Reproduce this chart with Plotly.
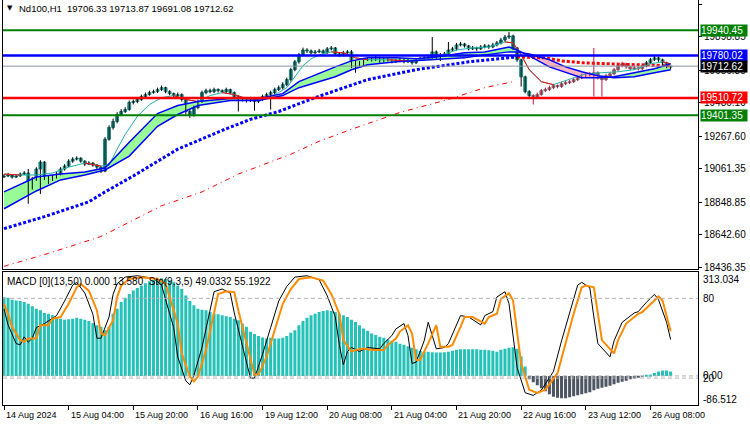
import plotly.graph_objects as go

# ---------------- data ----------------
tick_idx = [0, 16, 32, 48, 64, 80, 96, 112, 128, 144, 160]
tick_labels = ["14 Aug 2024", "15 Aug 04:00", "15 Aug 20:00", "16 Aug 16:00", "19 Aug 12:00",
               "20 Aug 08:00", "21 Aug 04:00", "21 Aug 20:00", "22 Aug 16:00", "23 Aug 12:00",
               "26 Aug 08:00"]

opens = [19010, 19016, 19022, 19009, 19016, 19028, 19035, 18946, 18997, 19060,
         19104, 19009, 18997, 19009, 19028, 19060, 19079, 19110, 19123, 19129,
         19110, 19091, 19098, 19085, 19072, 19047, 19249, 19324, 19362, 19406,
         19425, 19438, 19482, 19488, 19501, 19520, 19532, 19545, 19551, 19564,
         19576, 19551, 19538, 19526, 19532, 19501, 19425, 19400, 19450, 19488,
         19545, 19557, 19551, 19564, 19557, 19551, 19564, 19545, 19520, 19507,
         19501, 19494, 19507, 19488, 19501, 19520, 19532, 19545, 19564, 19576,
         19595, 19627, 19690, 19740, 19784, 19815, 19809, 19797, 19803, 19809,
         19797, 19822, 19828, 19790, 19784, 19797, 19803, 19715, 19740, 19721,
         19753, 19759, 19753, 19765, 19746, 19759, 19753, 19740, 19746, 19753,
         19740, 19746, 19734, 19753, 19759, 19765, 19771, 19803, 19771, 19784,
         19790, 19815, 19822, 19847, 19853, 19841, 19822, 19828, 19822, 19834,
         19841, 19834, 19847, 19860, 19878, 19897, 19904, 19828, 19753, 19645,
         19551, 19526, 19520, 19532, 19557, 19564, 19576, 19589, 19583, 19601,
         19608, 19614, 19627, 19639, 19652, 19658, 19664, 19671, 19639, 19627,
         19652, 19664, 19690, 19715, 19727, 19708, 19696, 19702, 19696, 19715,
         19734, 19753, 19765, 19753, 19734, 19706.33]
highs = [19028, 19035, 19028, 19024, 19038, 19047, 19060, 19010, 19072, 19116,
         19110, 19020, 19022, 19040, 19072, 19091, 19122, 19135, 19140, 19135,
         19116, 19110, 19104, 19091, 19080, 19262, 19337, 19380, 19420, 19440,
         19452, 19495, 19500, 19514, 19532, 19545, 19557, 19564, 19576, 19590,
         19582, 19560, 19545, 19545, 19540, 19510, 19440, 19462, 19500, 19557,
         19570, 19570, 19576, 19572, 19565, 19576, 19570, 19552, 19528, 19515,
         19510, 19518, 19515, 19512, 19532, 19545, 19557, 19576, 19590, 19610,
         19640, 19702, 19752, 19797, 19830, 19826, 19818, 19815, 19822, 19818,
         19834, 19840, 19834, 19797, 19809, 19815, 19815, 19752, 19746, 19765,
         19771, 19768, 19777, 19772, 19770, 19768, 19760, 19758, 19765, 19760,
         19757, 19752, 19765, 19771, 19777, 19784, 19897, 19812, 19796, 19803,
         19866, 19835, 19860, 19866, 19860, 19847, 19840, 19836, 19846, 19853,
         19850, 19860, 19872, 19892, 19910, 19929, 19912, 19835, 19760, 19652,
         19560, 19535, 19545, 19568, 19576, 19588, 19600, 19596, 19614, 19620,
         19626, 19639, 19652, 19664, 19670, 19676, 19828, 19680, 19648, 19664,
         19676, 19702, 19727, 19740, 19734, 19715, 19715, 19710, 19727, 19746,
         19765, 19778, 19772, 19760, 19740, 19713.87]
lows = [19003, 19009, 19000, 19003, 19010, 19022, 18840, 18930, 18985, 18902,
        18990, 18965, 18984, 19000, 19020, 19050, 19072, 19100, 19115, 19100,
        19080, 19085, 19075, 19060, 19035, 19040, 19240, 19310, 19350, 19395,
        19415, 19430, 19470, 19478, 19492, 19510, 19525, 19538, 19542, 19555,
        19540, 19528, 19515, 19515, 19488, 19405, 19385, 19392, 19440, 19480,
        19535, 19540, 19542, 19545, 19540, 19542, 19535, 19508, 19425, 19488,
        19482, 19485, 19430, 19478, 19492, 19510, 19437, 19535, 19555, 19565,
        19585, 19615, 19680, 19728, 19775, 19796, 19786, 19790, 19795, 19786,
        19790, 19812, 19780, 19772, 19776, 19790, 19700, 19671, 19710, 19715,
        19745, 19742, 19745, 19735, 19738, 19742, 19730, 19732, 19738, 19730,
        19732, 19722, 19726, 19745, 19750, 19756, 19760, 19760, 19745, 19775,
        19780, 19805, 19812, 19838, 19830, 19812, 19815, 19810, 19815, 19825,
        19822, 19826, 19838, 19850, 19868, 19885, 19815, 19740, 19583, 19540,
        19510, 19469, 19508, 19525, 19548, 19555, 19568, 19572, 19575, 19592,
        19598, 19605, 19618, 19630, 19642, 19648, 19520, 19628, 19520, 19618,
        19642, 19655, 19680, 19705, 19696, 19685, 19688, 19685, 19688, 19705,
        19725, 19745, 19740, 19718, 19700, 19691.08]
closes = [19016, 19022, 19009, 19016, 19028, 19035, 18946, 18997, 19060, 19104,
          19009, 18997, 19009, 19028, 19060, 19079, 19110, 19123, 19129, 19110,
          19091, 19098, 19085, 19072, 19047, 19249, 19324, 19362, 19406, 19425,
          19438, 19482, 19488, 19501, 19520, 19532, 19545, 19551, 19564, 19576,
          19551, 19538, 19526, 19532, 19501, 19425, 19400, 19450, 19488, 19545,
          19557, 19551, 19564, 19557, 19551, 19564, 19545, 19520, 19507, 19501,
          19494, 19507, 19488, 19501, 19520, 19532, 19545, 19564, 19576, 19595,
          19627, 19690, 19740, 19784, 19815, 19809, 19797, 19803, 19809, 19797,
          19822, 19828, 19790, 19784, 19797, 19803, 19715, 19740, 19721, 19753,
          19759, 19753, 19765, 19746, 19759, 19753, 19740, 19746, 19753, 19740,
          19746, 19734, 19753, 19759, 19765, 19771, 19803, 19771, 19784, 19790,
          19815, 19822, 19847, 19853, 19841, 19822, 19828, 19822, 19834, 19841,
          19834, 19847, 19860, 19878, 19897, 19904, 19828, 19753, 19645, 19551,
          19526, 19520, 19532, 19557, 19564, 19576, 19589, 19583, 19601, 19608,
          19614, 19627, 19639, 19652, 19658, 19664, 19671, 19639, 19627, 19652,
          19664, 19690, 19715, 19727, 19708, 19696, 19702, 19696, 19715, 19734,
          19753, 19765, 19753, 19734, 19715, 19712.62]
gray_bars = (131, 158)          # range of bars drawn in gray in the reference

fast_idx = [0, 4, 8, 12, 16, 20, 24, 26, 28, 30, 33, 36, 39, 42, 45, 48, 51, 54, 57, 60,
            63, 66, 68, 70, 72, 74, 76, 78, 81, 84, 87, 90, 95, 100, 105, 108, 112, 116,
            120, 124, 126, 128, 130, 133, 136, 140, 144, 148, 152, 156, 160, 163, 165]
fast_ma = [19028, 19022, 19022, 19035, 19072, 19098, 19079, 19085, 19186, 19280, 19394,
           19469, 19513, 19526, 19501, 19488, 19526, 19545, 19532, 19507, 19501, 19520,
           19545, 19576, 19645, 19715, 19759, 19784, 19803, 19797, 19765, 19753, 19753,
           19746, 19759, 19778, 19815, 19828, 19834, 19866, 19860, 19784, 19690, 19614,
           19595, 19627, 19664, 19671, 19677, 19690, 19727, 19740, 19727]

rib_idx = [0, 8, 14, 20, 25, 31, 38, 43, 48, 56, 63, 69, 73, 77, 82, 86, 90, 97, 102, 107,
           114, 119, 125, 127, 130, 135, 139, 143, 147, 151, 156, 161, 165]
rib_fast = [18915, 19009, 19028, 19041, 19066, 19230, 19412, 19463, 19488, 19507, 19507,
            19538, 19614, 19658, 19708, 19746, 19765, 19765, 19759, 19771, 19797, 19803,
            19834, 19815, 19778, 19708, 19671, 19639, 19639, 19645, 19671, 19696, 19727]
rib_slow = [18808, 18921, 18991, 19022, 19054, 19142, 19331, 19406, 19463, 19494, 19494,
            19526, 19576, 19608, 19645, 19690, 19721, 19740, 19746, 19753, 19765, 19784,
            19803, 19803, 19790, 19753, 19708, 19677, 19652, 19639, 19645, 19671, 19690]

ma50_idx = [0, 10, 21, 25, 32, 43, 54, 61, 68, 77, 90, 102, 115, 127, 134, 138, 143, 150, 157, 165]
ma50 = [18682, 18758, 18852, 18915, 19016, 19186, 19305, 19375, 19425, 19513, 19627,
        19690, 19740, 19771, 19765, 19746, 19734, 19727, 19721, 19715]
ma50_blue_until = 127

ma200_idx = [0, 11, 24, 39, 49, 58, 71, 78, 86, 98, 110, 119, 126]
ma200 = [18443, 18525, 18632, 18827, 18915, 19028, 19154, 19236, 19312, 19419, 19501, 19576, 19614]

levels = [19940.45, 19780.02, 19712.62, 19510.72, 19401.35]
level_labels = ["19940.45", "19780.02", "19712.62", "19510.72", "19401.35"]
price_ticks = [20105.10, 19898.85, 19686.35, 19480.10, 19267.60, 19061.35, 18848.85, 18642.60, 18436.35]

macd_hist = [236.7, 234.6, 228.6, 226.8, 224.8, 221.8, 216.7, 209.0, 201.8, 197.1,
             189.0, 187.0, 182.2, 175.0, 172.1, 169.1, 170.3, 172.1, 175.0, 172.1,
             169.1, 165.2, 159.3, 152.4, 147.4, 137.5, 147.4, 187.0, 201.8, 221.8,
             234.6, 246.5, 256.6, 264.4, 271.5, 278.3, 284.3, 288.2, 291.2, 293.2,
             291.2, 286.4, 281.3, 271.5, 261.4, 241.7, 224.8, 212.0, 201.8, 198.9,
             197.1, 192.0, 187.0, 185.2, 182.2, 179.2, 177.1, 172.1, 167.3, 157.2,
             147.4, 132.5, 125.6, 119.7, 115.5, 112.5, 114.6, 112.5, 112.5, 114.6,
             119.7, 129.5, 137.5, 152.4, 165.2, 175.0, 182.2, 187.0, 192.0, 195.0,
             197.1, 195.0, 192.0, 187.0, 182.2, 177.1, 169.1, 162.2, 152.4, 142.3,
             135.5, 127.4, 122.7, 117.6, 114.6, 109.6, 105.7, 102.7, 96.8, 93.8,
             89.3, 84.8, 80.4, 75.9, 72.9, 72.9, 71.4, 70.0, 70.0, 71.4,
             72.9, 75.9, 78.9, 80.4, 80.4, 80.4, 80.4, 80.4, 78.9, 78.9,
             77.4, 75.9, 72.9, 78.9, 81.9, 84.8, 86.3, 81.9, 58.1, 28.3,
             -10.4, -19.4, -28.3, -37.2, -46.1, -55.1, -62.5, -65.5, -67.0, -67.0,
             -64.0, -61.0, -58.1, -55.1, -52.1, -49.1, -43.2, -38.7, -35.7, -32.7,
             -29.8, -25.3, -20.8, -17.9, -14.9, -10.4, -7.4, -4.5, -1.5, 0.9,
             4.5, 8.9, 13.4, 16.4, 16.4, 13.58]
macd_max, macd_min = 313.034, -86.512

sig_idx = [0, 1, 2, 4, 5, 6, 8, 9, 11, 12, 14, 16, 18, 19, 21, 23, 24, 25, 27, 28, 29, 31,
           34, 38, 40, 41, 43, 44, 46, 47, 48, 50, 52, 53, 55, 57, 58, 60, 62, 63, 65, 67,
           69, 71, 73, 76, 79, 81, 83, 84, 86, 87, 89, 91, 94, 95, 97, 98, 100, 101, 102,
           103, 105, 107, 108, 110, 111, 113, 114, 116, 119, 120, 122, 123, 125, 126, 127,
           128, 130, 132, 134, 137, 139, 141, 143, 144, 146, 147, 148, 151, 152, 154, 157,
           158, 160, 162, 163, 165]
stoch_sig = [75.9, 68.4, 58.5, 48.6, 47.3, 49.8, 49.8, 59.8, 59.8, 64.7, 65.9, 75.9, 88.3,
             90.8, 85.8, 70.9, 53.5, 52.3, 63.5, 80.8, 89.6, 94.5, 95.8, 94.5, 90.8, 80.8,
             61.0, 38.6, 21.2, 17.5, 21.2, 41.1, 68.4, 83.3, 85.3, 84.6, 70.9, 46.1, 22.5,
             22.5, 36.1, 56.0, 75.9, 87.0, 94.5, 95.8, 93.3, 83.3, 68.4, 48.6, 39.9, 41.1,
             42.3, 41.1, 41.1, 44.9, 49.8, 55.0, 59.8, 53.5, 33.7, 33.7, 46.1, 59.8, 43.6,
             43.6, 44.9, 58.5, 65.9, 65.9, 61.0, 65.9, 68.4, 79.6, 83.8, 78.4, 56.0, 31.1,
             11.3, 8.8, 11.3, 23.7, 46.1, 68.4, 88.3, 89.6, 88.3, 68.4, 48.6, 38.6, 48.6,
             61.0, 68.4, 69.7, 75.9, 81.4, 78.4, 55.1922]

main_idx = [0, 1, 3, 4, 5, 6, 7, 8, 10, 11, 13, 15, 17, 18, 20, 22, 23, 24, 26, 27, 28, 30,
            33, 37, 39, 40, 42, 43, 45, 46, 47, 49, 51, 52, 54, 56, 57, 59, 61, 62, 64, 66,
            68, 70, 72, 75, 78, 80, 82, 83, 84, 85, 86, 88, 90, 93, 94, 96, 97, 99, 100,
            101, 102, 104, 105, 107, 109, 110, 112, 113, 115, 118, 119, 121, 122, 124, 125,
            126, 127, 129, 131, 133, 136, 138, 140, 142, 143, 145, 146, 147, 150, 151, 153,
            156, 157, 159, 161, 162, 164, 165]
stoch_main = [72, 60, 46, 45, 51, 47, 50, 58, 61, 63, 67, 78, 90, 92, 84, 68, 50, 50, 66,
              83, 91, 96, 97, 95, 90, 79, 58, 36, 18, 15, 22, 43, 70, 85, 87, 84, 69, 44,
              20, 20, 38, 58, 78, 89, 96, 97, 94, 82, 66, 45, 30, 40, 43, 40, 43, 42, 46,
              52, 57, 61, 52, 31, 32, 48, 62, 42, 43, 46, 60, 67, 66, 60, 67, 70, 81, 85,
              76, 52, 28, 9, 7, 11, 25, 48, 70, 90, 92, 88, 66, 46, 36, 48, 62, 69, 70, 77,
              83, 79, 62, 49.0332]

# ---------------- geometry / style ----------------
W, H = 750, 430
X0, X1 = 3, 698
MAIN_BOT = 271.7
SUB_TOP, SUB_BOT = 274.3, 408.5
FONT = "Liberation Sans"
TEAL = "#20b2aa"
N = len(closes)


def py(px):
    return 1 - px / H


fig = go.Figure()

# --- ribbon fill (green when fast above slow, pink otherwise) ---
regions = []
cur = {"x": [rib_idx[0]], "a": [rib_fast[0]], "b": [rib_slow[0]], "up": rib_fast[0] >= rib_slow[0]}
for k in range(1, len(rib_idx)):
    up = rib_fast[k] >= rib_slow[k]
    if up != cur["up"]:
        d0 = rib_fast[k - 1] - rib_slow[k - 1]
        d1 = rib_fast[k] - rib_slow[k]
        t = d0 / (d0 - d1)
        xc = rib_idx[k - 1] + t * (rib_idx[k] - rib_idx[k - 1])
        yc = rib_fast[k - 1] + t * (rib_fast[k] - rib_fast[k - 1])
        cur["x"].append(xc); cur["a"].append(yc); cur["b"].append(yc)
        regions.append(cur)
        cur = {"x": [xc], "a": [yc], "b": [yc], "up": up}
    cur["x"].append(rib_idx[k]); cur["a"].append(rib_fast[k]); cur["b"].append(rib_slow[k])
regions.append(cur)
for r in regions:
    fig.add_trace(go.Scatter(x=r["x"] + r["x"][::-1], y=r["a"] + r["b"][::-1], fill="toself",
                             fillcolor="#98fb98" if r["up"] else "#ffb6c1", line=dict(width=0),
                             mode="lines", xaxis="x", yaxis="y", hoverinfo="skip"))

# --- 200 MA (red dash-dot) ---
fig.add_trace(go.Scatter(x=ma200_idx, y=ma200, mode="lines",
                         line=dict(color="#ff0000", width=1, dash="5px,4px,1px,4px"),
                         xaxis="x", yaxis="y", hoverinfo="skip"))

# --- 50 MA dotted (blue then red) ---
bx = [i for i in ma50_idx if i <= ma50_blue_until]
fig.add_trace(go.Scatter(x=bx, y=ma50[:len(bx)], mode="lines",
                         line=dict(color="#0000ff", width=3, dash="3px,2px"),
                         xaxis="x", yaxis="y", hoverinfo="skip"))
fig.add_trace(go.Scatter(x=ma50_idx[len(bx) - 1:], y=ma50[len(bx) - 1:], mode="lines",
                         line=dict(color="#ff0000", width=3, dash="3px,2px"),
                         xaxis="x", yaxis="y", hoverinfo="skip"))

# --- candles: wicks then bodies ---
for gray in (False, True):
    ids = [i for i in range(N) if (gray_bars[0] <= i <= gray_bars[1]) == gray]
    wx, wy = [], []
    for i in ids:
        wx += [i, i, None]
        wy += [lows[i], highs[i], None]
    fig.add_trace(go.Scatter(x=wx, y=wy, mode="lines",
                             line=dict(color="#c8103c" if gray else "#000000", width=1),
                             xaxis="x", yaxis="y", hoverinfo="skip"))
    fig.add_trace(go.Bar(x=ids, y=[abs(closes[i] - opens[i]) for i in ids],
                         base=[min(opens[i], closes[i]) for i in ids], width=0.72,
                         marker=dict(color="#7f7f7f" if gray else TEAL,
                                     line=dict(color="#6a6a6a" if gray else "#0f6f6a", width=0.8)),
                         xaxis="x", yaxis="y", hoverinfo="skip"))

# --- fast MA (teal, red where falling) ---
fig.add_trace(go.Scatter(x=fast_idx, y=fast_ma, mode="lines", line=dict(color=TEAL, width=1),
                         xaxis="x", yaxis="y", hoverinfo="skip"))
rx, ry = [], []
for k in range(1, len(fast_idx)):
    if fast_ma[k] < fast_ma[k - 1]:
        rx += [fast_idx[k - 1], fast_idx[k], None]
        ry += [fast_ma[k - 1], fast_ma[k], None]
fig.add_trace(go.Scatter(x=rx, y=ry, mode="lines", line=dict(color="#ff0000", width=1),
                         xaxis="x", yaxis="y", hoverinfo="skip"))

# --- ribbon border lines ---
for arr in (rib_slow, rib_fast):
    fig.add_trace(go.Scatter(x=rib_idx, y=arr, mode="lines", line=dict(color="#0000ff", width=1.5),
                             xaxis="x", yaxis="y", hoverinfo="skip"))

# --- MACD histogram ---
fig.add_trace(go.Bar(x=list(range(N)), y=macd_hist, width=0.75,
                     marker=dict(color=["#26c1b7" if v >= 0 else "#4d5662" for v in macd_hist],
                                 line=dict(width=0)),
                     xaxis="x2", yaxis="y2", hoverinfo="skip"))

# --- Stochastic ---
fig.add_trace(go.Scatter(x=main_idx, y=stoch_main, mode="lines", line=dict(color="#000000", width=1),
                         xaxis="x2", yaxis="y3", hoverinfo="skip"))
fig.add_trace(go.Scatter(x=sig_idx, y=stoch_sig, mode="lines", line=dict(color="#ff8c00", width=2),
                         xaxis="x2", yaxis="y3", hoverinfo="skip"))

# ---------------- shapes ----------------
shapes = []
lvl_style = [("#008000", 2), ("#0000ff", 2.5), ("#8c94a0", 1), ("#ff0000", 2.5), ("#008000", 2)]
for v, (c, w) in zip(levels, lvl_style):
    shapes.append(dict(type="line", xref="paper", yref="y", x0=X0 / W, x1=X1 / W, y0=v, y1=v,
                       line=dict(color=c, width=w), layer="above"))
for yref, v in (("y3", 80), ("y3", 20), ("y2", 0)):
    shapes.append(dict(type="line", xref="paper", yref=yref, x0=X0 / W, x1=X1 / W, y0=v, y1=v,
                       line=dict(color="#b4b4b4", width=1, dash="4px,3px"), layer="above"))

# ---------------- annotations ----------------
ann = []
box_bg = ["#008000", "#0000ff", "#000000", "#ff0000", "#008000"]
for v, t, bg in zip(levels, level_labels, box_bg):
    ann.append(dict(x=700 / W, y=v, xref="paper", yref="y", text=t, showarrow=False,
                    xanchor="left", yanchor="middle", bgcolor=bg, borderpad=0, width=46,
                    align="left", font=dict(family=FONT, size=10, color="#ffffff")))
for t, ypx in (("313.034", 282), ("80", 301.5), ("0.00", 379), ("20", 382), ("-86.512", 403)):
    ann.append(dict(x=701 / W, y=py(ypx), xref="paper", yref="paper", text=t, showarrow=False,
                    xanchor="left", yanchor="middle",
                    font=dict(family=FONT, size=10, color="#000000")))
for i, t in zip(tick_idx, tick_labels):
    ann.append(dict(x=i, y=py(419), xref="x2", yref="paper", text=t, showarrow=False,
                    xanchor="left", yanchor="middle", font=dict(family=FONT, size=9, color="#000000")))
ann.append(dict(x=5 / W, y=py(8.5), xref="paper", yref="paper", text="▼", showarrow=False,
                xanchor="left", yanchor="middle", font=dict(family="DejaVu Sans", size=7, color="#000000")))
ann.append(dict(x=17 / W, y=py(9), xref="paper", yref="paper",
                text="Nd100,H1  19706.33 19713.87 19691.08 19712.62", showarrow=False,
                xanchor="left", yanchor="middle", font=dict(family=FONT, size=9.5, color="#000000")))
ann.append(dict(x=5 / W, y=py(284.5), xref="paper", yref="paper",
                text="MACD [0](13,50) 0.000 13.580  Sto(9,3,5) 49.0332 55.1922", showarrow=False,
                xanchor="left", yanchor="middle", font=dict(family=FONT, size=10, color="#000000")))

# ---------------- layout ----------------
xr = [-0.25, -0.25 + (X1 - X0) / 4.04]
fig.update_layout(
    width=W, height=H, margin=dict(l=0, r=0, t=0, b=0), autosize=False,
    paper_bgcolor="#ffffff", plot_bgcolor="#ffffff", showlegend=False, hovermode=False,
    barmode="overlay", shapes=shapes, annotations=ann,
    xaxis=dict(domain=[X0 / W, X1 / W], range=xr, anchor="y", showline=True, linecolor="#000000",
               linewidth=1, showgrid=False, zeroline=False, showticklabels=False, ticks=""),
    yaxis=dict(domain=[py(MAIN_BOT), 1], range=[18425, 20132], side="right", anchor="x",
               showline=True, mirror=True, linecolor="#000000", linewidth=1, showgrid=False,
               zeroline=False, ticks="outside", ticklen=3, tickcolor="#000000",
               tickvals=price_ticks, ticktext=["%.2f" % v for v in price_ticks],
               tickfont=dict(family=FONT, size=10, color="#000000")),
    xaxis2=dict(domain=[X0 / W, X1 / W], range=xr, anchor="y2", matches="x", showline=True,
                mirror=True, linecolor="#000000", linewidth=1, showgrid=False, zeroline=False,
                ticks="outside", ticklen=4, tickcolor="#000000", tickvals=tick_idx,
                showticklabels=False),
    yaxis2=dict(domain=[py(SUB_BOT), py(SUB_TOP)], range=[macd_min, macd_max], side="right",
                anchor="x2", showline=True, mirror=True, linecolor="#000000", linewidth=1,
                showgrid=False, zeroline=False, showticklabels=False, ticks=""),
    yaxis3=dict(overlaying="y2", range=[0, 100], anchor="x2", side="right", showline=False,
                showgrid=False, zeroline=False, showticklabels=False, ticks=""),
)

fig.write_html("out.html")
